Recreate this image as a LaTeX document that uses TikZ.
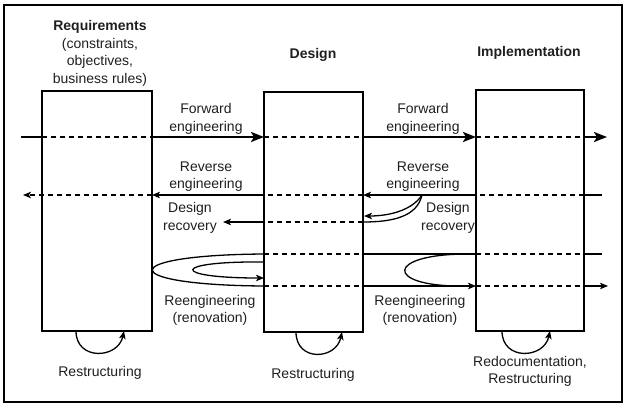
\documentclass[tikz,border=0pt]{standalone}
\usepackage{fontspec}
\setmainfont{Liberation Sans}
\usetikzlibrary{arrows.meta}
\tikzstyle{every node}=[inner sep=0pt,outer sep=0pt,align=center,text=black!88,font=\fontsize{14}{17.5}\selectfont]
\tikzstyle{phase}=[draw=black,line width=1.6pt]
\tikzstyle{title}=[font=\fontsize{14}{17.5}\selectfont\bfseries]
\tikzstyle{frame}=[draw=black,line width=2pt]
\tikzstyle{fwd}=[line width=2.4pt]
\tikzstyle{fwdtip}=[-{Stealth[length=13pt,width=10pt,inset=3pt]}]
\tikzstyle{flow}=[line width=1.3pt]
\tikzstyle{tip}=[-{Stealth[length=8pt,width=6.5pt,inset=2pt]}]
\tikzstyle{thru}=[line width=1.3pt,dash pattern=on 5pt off 4pt]

\begin{document}
\begin{tikzpicture}[x=1pt,y=-1pt]
    \useasboundingbox (0,0) rectangle (627,408);
    \draw[frame] (4,5) rectangle (622,402);

    \node[phase,minimum width=110pt,minimum height=240pt] (req) at (97,211) {};
    \node[phase,minimum width=99pt,minimum height=240pt] (des) at (313.5,212) {};
    \node[phase,minimum width=108pt,minimum height=241pt] (impl) at (530,210.5) {};

    \node (reqtitle) at (100,53.5) {\textbf{Requirements}\\(constraints,\\objectives,\\business rules)};
    \node[title] (destitle) at (313,55) {Design};
    \node[title] (impltitle) at (529,53) {Implementation};

    \coordinate (fin) at (21,137);
    \coordinate (fout) at (607,137);
    \coordinate (rin) at (602,195);
    \coordinate (rout) at (23,195);
    \coordinate (split) at (422,195);
    \coordinate (drec) at (223,222);
    \coordinate (drtip) at (364,216);
    \coordinate (ruin) at (602,254);
    \coordinate (rdout) at (608,286);

    \draw[fwd] (fin) -- (req.west |- fin);
    \draw[fwd,fwdtip] (req.east |- fin) -- (des.west |- fin);
    \draw[fwd,fwdtip] (des.east |- fin) -- (impl.west |- fin);
    \draw[fwd,fwdtip] (impl.east |- fin) -- (fout);
    \foreach \b in {req,des,impl}
        \draw[thru] (\b.west |- fin) -- (\b.east |- fin);

    \draw[flow] (rin) -- (impl.east |- rin);
    \draw[thru] (impl.east |- rin) -- (impl.west |- rin);
    \draw[flow,tip] (impl.west |- rin) -- (des.east |- rin);
    \draw[thru] (des.east |- rin) -- (des.west |- rin);
    \draw[flow,tip] (des.west |- rin) -- (req.east |- rin);
    \draw[thru,tip] (req.east |- rin) -- (rout);

    \draw[flow] (split) .. controls (417,217) and (392,222) .. (des.east |- drec);
    \draw[flow,tip] (split) .. controls (413,209) and (392,216) .. (drtip);
    \draw[thru] (des.east |- drec) -- (des.west |- drec);
    \draw[flow,tip] (des.west |- drec) -- (drec);

    \draw[flow] (ruin) -- (impl.east |- ruin);
    \draw[flow] (impl.west |- ruin) -- (des.east |- ruin);
    \draw[flow,tip] (des.east |- rdout) -- (impl.west |- rdout);
    \draw[flow,tip] (impl.east |- rdout) -- (rdout);
    \foreach \b in {des,impl} {
        \draw[thru] (\b.west |- ruin) -- (\b.east |- ruin);
        \draw[thru] (\b.west |- rdout) -- (\b.east |- rdout);
    }
    \draw[flow] (468,254) .. controls (385,254) and (385,286) .. (460,286);
    \draw[flow] (des.west |- ruin) .. controls (115,255) and (115,285) .. (des.west |- rdout);
    \draw[flow,tip] (des.west |- 0,262) .. controls (170,261) and (170,278) .. (des.west |- 0,278);

    \draw[flow,tip] ([xshift=-21pt]req.south) .. controls +(0,30) and +(-6,28) .. ([xshift=27pt]req.south);
    \draw[flow,tip] ([xshift=-17.5pt]des.south) .. controls +(0,30) and +(-6,28) .. ([xshift=28.5pt]des.south);
    \draw[flow,tip] ([xshift=-28pt]impl.south) .. controls +(0,30) and +(-6,28) .. ([xshift=20pt]impl.south);

    \node (fwdA) at (206,119) {Forward\\engineering};
    \node (fwdB) at (423,119) {Forward\\engineering};
    \node (revA) at (206,176.5) {Reverse\\engineering};
    \node (revB) at (423,176.5) {Reverse\\engineering};
    \node (recA) at (190,218) {Design\\recovery};
    \node (recB) at (448,218) {Design\\recovery};
    \node (reA) at (210,310.5) {Reengineering\\(renovation)};
    \node (reB) at (420,310.5) {Reengineering\\(renovation)};
    \node (restreq) at (100,373) {Restructuring};
    \node (restdes) at (313,375) {Restructuring};
    \node (redoc) at (530,371.5) {Redocumentation,\\Restructuring};
\end{tikzpicture}
\end{document}
